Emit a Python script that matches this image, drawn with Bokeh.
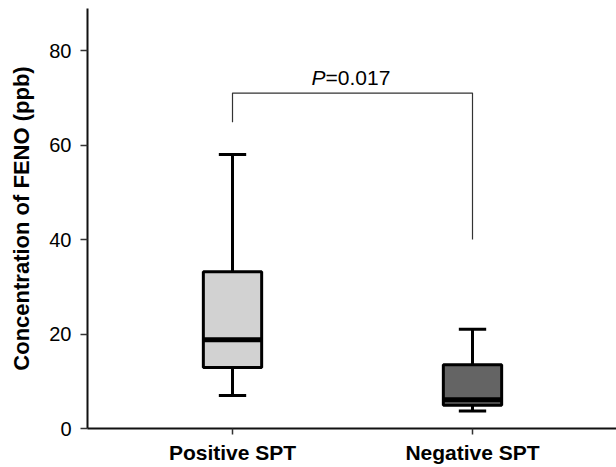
from bokeh.plotting import figure
from bokeh.models import Range1d, FixedTicker
from bokeh.embed import file_html
from bokeh.resources import INLINE
from bokeh.core.properties import value

categories = ["Positive SPT", "Negative SPT"]
whisker_low = [7.0, 3.7]
q1 = [12.9, 4.9]
median = [18.8, 6.1]
q3 = [33.2, 13.5]
whisker_high = [58.0, 21.0]
fills = ["#d2d2d2", "#646464"]
y_ticks = [0, 20, 40, 60, 80]
p_label = "P"
p_value = "=0.017"
bracket_top = 71.0
bracket_left_end = 64.8
bracket_right_end = 40.0

xs = [i + 1 for i in range(len(categories))]

p = figure(width=616, height=467, output_backend="svg", toolbar_location=None,
           x_range=Range1d(0.3958, 2.6), y_range=Range1d(0, 88.9),
           min_border_left=87, min_border_right=0, min_border_top=8, min_border_bottom=39)
p.outline_line_color = None
p.xgrid.visible = False
p.ygrid.visible = False
p.background_fill_color = "white"

FONT = "Liberation Sans"

# whiskers
p.segment(x0=xs, y0=q3, x1=xs, y1=whisker_high, line_color="black", line_width=3)
p.segment(x0=xs, y0=whisker_low, x1=xs, y1=q1, line_color="black", line_width=3)
cap = 0.057
p.segment(x0=[x - cap for x in xs], y0=whisker_high, x1=[x + cap for x in xs], y1=whisker_high,
          line_color="black", line_width=3)
p.segment(x0=[x - cap for x in xs], y0=whisker_low, x1=[x + cap for x in xs], y1=whisker_low,
          line_color="black", line_width=3)
# boxes
p.vbar(x=xs, width=0.243, bottom=q1, top=q3, fill_color=fills, line_color="black", line_width=3)
# medians
half = 0.1215
p.segment(x0=[x - half for x in xs], y0=median, x1=[x + half for x in xs], y1=median,
          line_color="black", line_width=5)

# significance bracket
p.line(x=[xs[0], xs[0], xs[1], xs[1]], y=[bracket_left_end, bracket_top, bracket_top, bracket_right_end],
       line_color="#333333", line_width=1.2)
tx = 1.3875
ty = bracket_top + 3.2
p.text(x=[tx], y=[ty], text=[p_label], text_align="right", text_baseline="alphabetic",
       text_font=value(FONT), text_font_size="21px", text_font_style="italic", text_color="black")
p.text(x=[tx], y=[ty], text=[p_value], text_align="left", text_baseline="alphabetic",
       text_font=value(FONT), text_font_size="21px", text_color="black")

# axes
p.xaxis.ticker = FixedTicker(ticks=xs)
p.xaxis.major_label_overrides = {x: c for x, c in zip(xs, categories)}
p.xaxis.major_label_text_font = FONT
p.xaxis.major_label_text_font_size = "21px"
p.xaxis.major_label_text_font_style = "bold"
p.xaxis.major_label_text_color = "black"
p.xaxis.major_label_standoff = 6
p.xaxis.major_tick_out = 6
p.xaxis.major_tick_in = 0
p.xaxis.minor_tick_line_color = None
p.xaxis.axis_line_width = 2
p.xaxis.axis_line_color = "#111111"
p.xaxis.major_tick_line_color = "#333333"
p.xaxis.major_tick_line_width = 1.5

p.yaxis.ticker = FixedTicker(ticks=y_ticks)
p.yaxis.major_label_text_font = FONT
p.yaxis.major_label_text_font_size = "20px"
p.yaxis.major_label_text_color = "black"
p.yaxis.major_label_standoff = 9
p.yaxis.major_tick_out = 7
p.yaxis.major_tick_in = 0
p.yaxis.minor_tick_line_color = None
p.yaxis.axis_line_width = 2
p.yaxis.axis_line_color = "#111111"
p.yaxis.major_tick_line_color = "#333333"
p.yaxis.major_tick_line_width = 1.5
p.yaxis.axis_label = "Concentration of FENO (ppb)"
p.yaxis.axis_label_text_font = FONT
p.yaxis.axis_label_text_font_size = "22px"
p.yaxis.axis_label_text_font_style = "bold"
p.yaxis.axis_label_text_color = "black"
p.yaxis.axis_label_standoff = 12

open("out.html", "w").write(file_html(p, INLINE))
